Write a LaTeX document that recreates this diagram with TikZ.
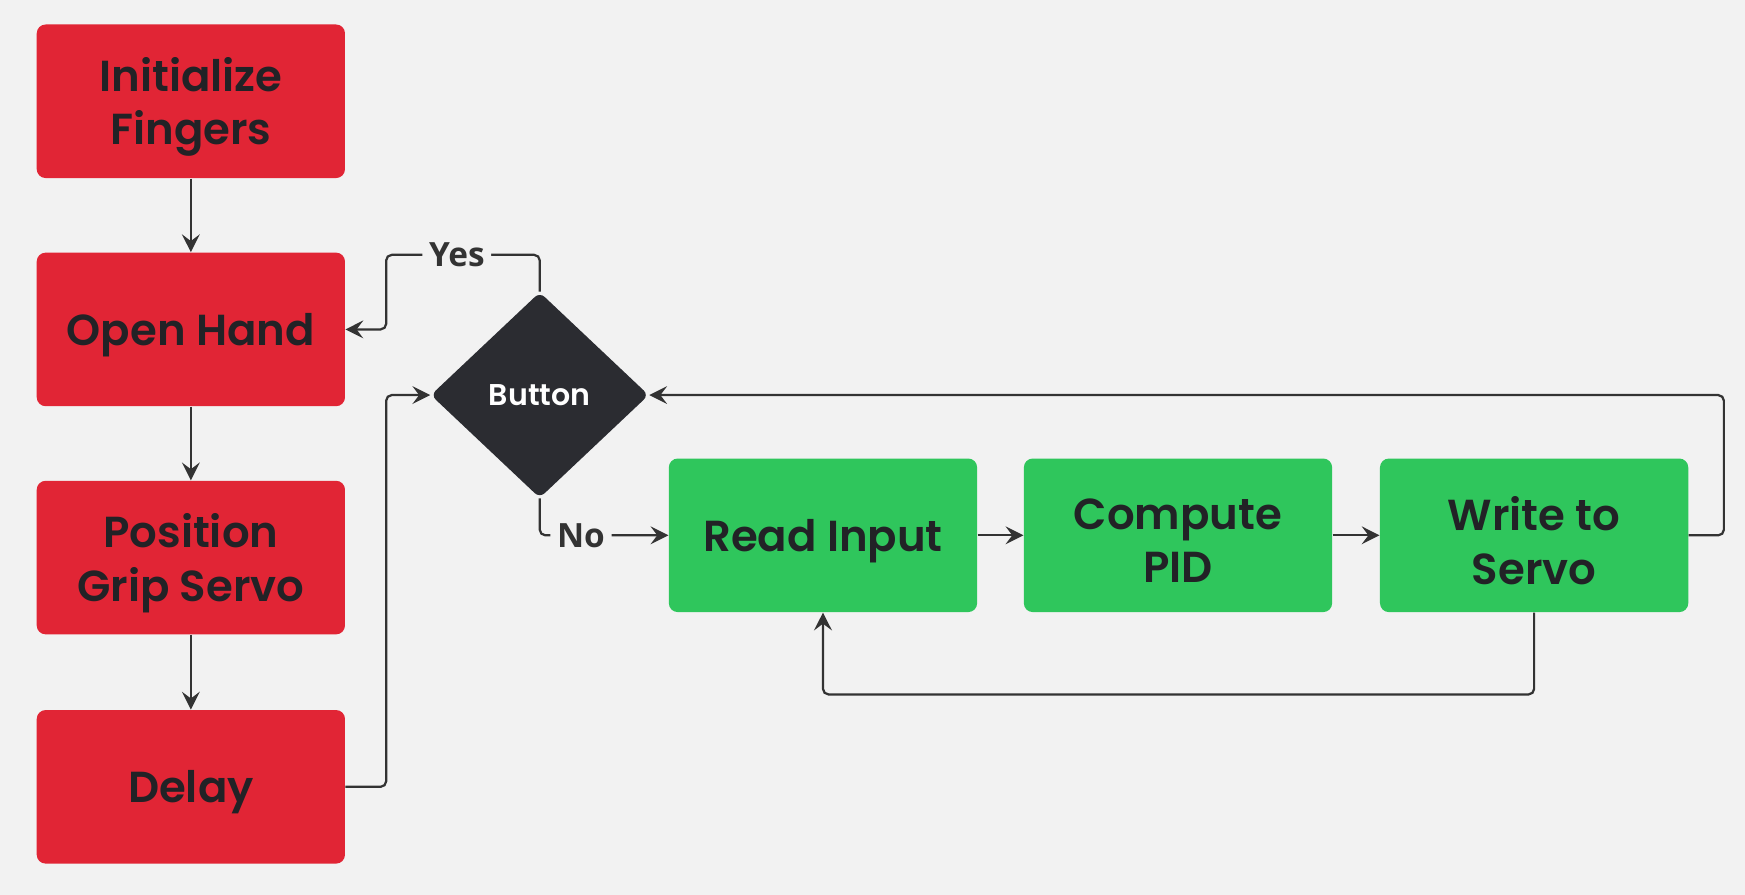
\documentclass[tikz,border=0pt]{standalone}
\usepackage{fontspec}
\setmainfont{Poppins}[BoldFont={Poppins SemiBold}]
\newfontfamily\lblfont{Open Sans}
\usetikzlibrary{shapes.geometric,arrows.meta}
\definecolor{bg}{HTML}{F2F2F2}
\definecolor{stepred}{HTML}{E12535}
\definecolor{stepgreen}{HTML}{2FC65C}
\definecolor{dark}{HTML}{2B2C31}
\definecolor{ink}{HTML}{222226}
\definecolor{wire}{HTML}{333333}
\tikzset{
  boxtext/.style={align=center, text=ink, font=\fontsize{19.5}{24}\selectfont\bfseries, inner sep=0pt, yshift=-2.5pt},
  box/.style={rectangle, rounded corners=4pt, minimum width=138.5pt, minimum height=69pt,
    inner sep=0pt, label={[boxtext]center:#1}},
  redbox/.style={box={#1}, fill=stepred},
  greenbox/.style={box={#1}, fill=stepgreen},
  decision/.style={diamond, fill=dark, rounded corners=3pt, minimum width=98pt, minimum height=92.5pt,
    inner sep=0pt, text=white, font=\fontsize{13.5}{15}\selectfont\bfseries},
  wire/.style={draw=wire, line width=1pt, rounded corners=2.5pt},
  arr/.style={wire, -{Stealth[length=8pt,width=8pt,inset=3pt]}},
  lbl/.style={fill=bg, inner xsep=3pt, inner ysep=1pt, text=wire, font=\lblfont\fontsize{15}{17}\selectfont\bfseries}
}
\begin{document}
\begin{tikzpicture}[x=0.5pt,y=-0.5pt]
  \fill[bg] (0,0) rectangle (1568,804);
  \useasboundingbox (0,0) rectangle (1568,804);
  \draw
    (171.5,91) node[redbox={Initialize\\Fingers}] (init){}
    (171.5,296) node[redbox={Open Hand}] (open){}
    (171.5,501) node[redbox={Position\\Grip Servo}] (pos){}
    (171.5,707) node[redbox={Delay}] (delay){}
    (485,355) node[decision] (button){Button}
    (739.5,481) node[greenbox={Read Input}] (read){}
    (1058.5,481) node[greenbox={Compute\\PID}] (pid){}
    (1378.5,481) node[greenbox={Write to\\Servo}] (write){};
  \begin{scope}[arr]
    \draw (init) to (open);
    \draw (open) to (pos);
    \draw (pos) to (delay);
    \draw (delay.east) -- (347,707) -- (347,355) -- (button.west);
    \draw (button.north) -- (485,229) -- node[lbl, pos=0.54] (yes){Yes} (347,229) -- (347,296) -- (open.east);
    \draw (button.south) -- (485,481) -- node[lbl, pos=0.32] (no){No} (read.west);
    \draw (read) to (pid);
    \draw (pid) to (write);
    \draw (write.east) -- (1549,481) -- (1549,355) -- (button.east);
    \draw (write.south) -- (1378.5,624) -- (739.5,624) -- (read.south);
  \end{scope}
\end{tikzpicture}
\end{document}
